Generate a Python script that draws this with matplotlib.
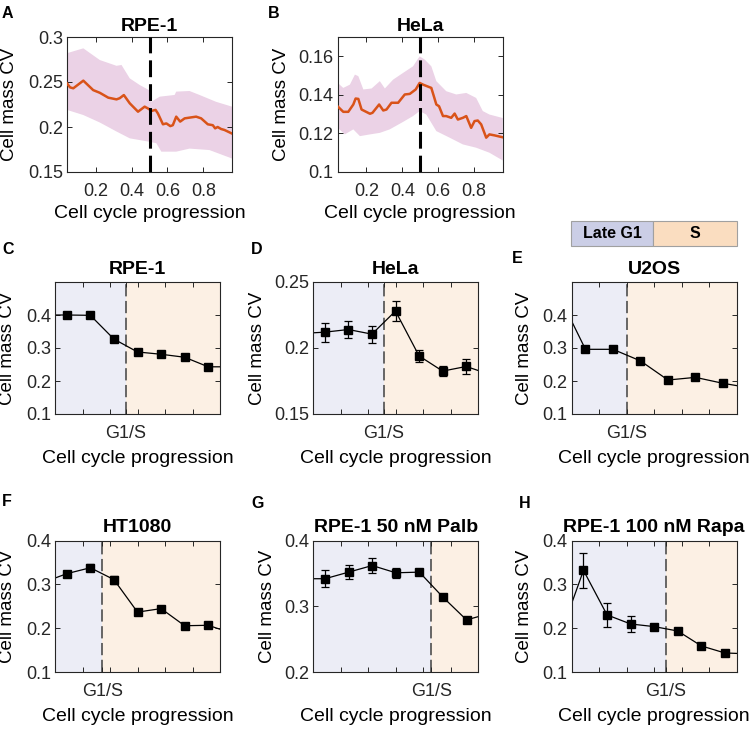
import numpy as np
import matplotlib
matplotlib.use('Agg')
import matplotlib.pyplot as plt
from matplotlib.patches import Rectangle

plt.rcParams['font.family'] = ['Liberation Sans', 'DejaVu Sans']

# ---------------- data ----------------
# Panel A (RPE-1, continuous)
a_x = [0.04, 0.057, 0.075, 0.131, 0.186, 0.223, 0.27, 0.316, 0.334, 0.357,
       0.39, 0.436, 0.473, 0.497, 0.51, 0.534, 0.547, 0.575, 0.594, 0.616,
       0.63, 0.649, 0.671, 0.696, 0.76, 0.788, 0.825, 0.853, 0.866, 0.88,
       0.899, 0.918, 0.957]
a_y = [0.2485, 0.244, 0.243, 0.2515, 0.241, 0.238, 0.2326, 0.2307, 0.232, 0.2355,
       0.2263, 0.217, 0.2226, 0.220, 0.2178, 0.219, 0.215, 0.203, 0.204, 0.201,
       0.202, 0.2115, 0.206, 0.2096, 0.2115, 0.2096, 0.203, 0.202, 0.1985, 0.200,
       0.1978, 0.1967, 0.193]
a_up_x = [0.04, 0.131, 0.223, 0.316, 0.344, 0.39, 0.445, 0.497, 0.51, 0.557,
          0.64, 0.649, 0.723, 0.779, 0.871, 0.96]
a_up_y = [0.282, 0.2874, 0.2744, 0.268, 0.2689, 0.254, 0.2467, 0.241, 0.228, 0.2337,
          0.2356, 0.2393, 0.240, 0.2356, 0.228, 0.2226]
a_lo_x = [0.04, 0.131, 0.223, 0.316, 0.39, 0.497, 0.538, 0.566, 0.649, 0.723, 0.834, 0.96]
a_lo_y = [0.219, 0.2133, 0.205, 0.195, 0.1874, 0.1837, 0.182, 0.1726, 0.1726, 0.176, 0.1744, 0.165]

# Panel B (HeLa, continuous)
b_x = [0.04, 0.071, 0.099, 0.127, 0.14, 0.155, 0.173, 0.22, 0.234, 0.271,
       0.294, 0.312, 0.34, 0.377, 0.414, 0.442, 0.475, 0.497, 0.516, 0.562,
       0.59, 0.605, 0.627, 0.645, 0.673, 0.692, 0.71, 0.738, 0.757, 0.784,
       0.803, 0.821, 0.84, 0.868, 0.886, 0.914, 0.96]
b_y = [0.134, 0.1312, 0.1312, 0.135, 0.1381, 0.1379, 0.1324, 0.1302, 0.1307, 0.135,
       0.1319, 0.1324, 0.1359, 0.1359, 0.1402, 0.1405, 0.1428, 0.1462, 0.1453, 0.1436,
       0.135, 0.1341, 0.129, 0.129, 0.1281, 0.1303, 0.1272, 0.1281, 0.129, 0.1229,
       0.1264, 0.1267, 0.1247, 0.1178, 0.1195, 0.119, 0.118]
b_up_x = [0.04, 0.071, 0.108, 0.136, 0.155, 0.183, 0.229, 0.275, 0.303, 0.349,
          0.405, 0.46, 0.497, 0.525, 0.562, 0.59, 0.645, 0.701, 0.757, 0.812,
          0.849, 0.886, 0.96]
b_up_y = [0.1462, 0.1436, 0.1453, 0.1505, 0.1497, 0.1428, 0.1433, 0.1471, 0.1433, 0.1479,
          0.1514, 0.1548, 0.160, 0.1583, 0.1548, 0.1471, 0.1419, 0.1402, 0.141, 0.1384,
          0.1316, 0.1298, 0.128]
b_lo_x = [0.04, 0.08, 0.127, 0.164, 0.22, 0.275, 0.33, 0.405, 0.46, 0.497,
          0.534, 0.59, 0.664, 0.738, 0.812, 0.886, 0.96]
b_lo_y = [0.1229, 0.1195, 0.1221, 0.1186, 0.1195, 0.1203, 0.1221, 0.126, 0.129, 0.1316,
          0.1298, 0.1212, 0.1178, 0.1143, 0.1126, 0.110, 0.106]

# Binned panels C-H: values include one bin beyond each axis edge
c_vals = [0.400, 0.400, 0.399, 0.327, 0.288, 0.281, 0.272, 0.243, 0.243]
c_err = [0.003, 0.003, 0.003, 0.003, 0.003, 0.003, 0.003]
d_vals = [0.211, 0.212, 0.214, 0.2105, 0.228, 0.194, 0.1825, 0.186, 0.180]
d_err = [0.0072, 0.0068, 0.0065, 0.0074, 0.0044, 0.0039, 0.0057]
e_vals = [0.466, 0.296, 0.296, 0.261, 0.203, 0.211, 0.193, 0.179]
e_err = [0.003, 0.003, 0.003, 0.003, 0.003, 0.003]
f_vals = [0.3045, 0.3245, 0.338, 0.311, 0.237, 0.245, 0.206, 0.207, 0.189]
f_err = [0.005, 0.008, 0.009, 0.003, 0.003, 0.003, 0.003]
g_vals = [0.342, 0.342, 0.352, 0.362, 0.351, 0.352, 0.314, 0.2795, 0.2895]
g_err = [0.0127, 0.0106, 0.012, 0.008, 0.004, 0.002, 0.002]
h_vals = [0.182, 0.332, 0.2306, 0.210, 0.204, 0.194, 0.160, 0.144, 0.142]
h_err = [0.04, 0.0266, 0.0186, 0.006, 0.003, 0.002, 0.002]

titles = ['RPE-1', 'HeLa', 'U2OS', 'HT1080', 'RPE-1 50 nM Palb', 'RPE-1 100 nM Rapa']
g1s_index = [3, 3, 2, 2, 5, 4]   # number of late-G1 bins before the G1/S boundary
legend_labels = ['Late G1', 'S']

# ---------------- style ----------------
W, H = 750, 729
fig = plt.figure(figsize=(7.5, 7.29), dpi=100)
AX_COL = '#262626'
RED = '#D95319'
BAND = '#EBD2E6'
G1_BG = '#ECEDF6'
S_BG = '#FCF0E4'
G1_LEG = '#CBCEE6'
S_LEG = '#FADDC0'
TICK_FS = 13
XLAB_FS = 14
YLAB_FS = 13.5
TITLE_FS = 14


def px_axes(left, top, right, bottom):
    return fig.add_axes([left / W, 1 - bottom / H, (right - left) / W, (bottom - top) / H])


def style(ax):
    for s in ax.spines.values():
        s.set_color(AX_COL)
        s.set_linewidth(0.8)
    ax.tick_params(direction='in', top=True, right=True, length=3.5, width=0.7,
                   color=AX_COL, labelcolor=AX_COL, labelsize=TICK_FS)
    ax.tick_params(axis='x', which='both', pad=8)
    ax.tick_params(axis='y', pad=3)
    ax.tick_params(which='minor', direction='in', top=True, length=3.5, width=0.7, color=AX_COL)


def panel_letter(x, y, s):
    fig.text(x / W, 1 - y / H, s, fontsize=11.5, fontweight='bold', va='top', ha='left')


# ---------------- Panel A ----------------
axA = px_axes(67, 37, 232, 172)
axA.fill(np.concatenate([a_up_x, a_lo_x[::-1]]), np.concatenate([a_up_y, a_lo_y[::-1]]),
         color=BAND, lw=0, zorder=1)
axA.plot(a_x, a_y, color=RED, lw=1.8, zorder=3)
axA.axvline(0.5, color='k', lw=2.2, ls=(0, (5.5, 2.3)), zorder=4)
axA.set_xlim(0.04, 0.96)
axA.set_ylim(0.15, 0.3)
axA.set_xticks([0.2, 0.4, 0.6, 0.8])
axA.set_xticklabels(['0.2', '0.4', '0.6', '0.8'])
axA.set_yticks([0.15, 0.2, 0.25, 0.3])
axA.set_yticklabels(['0.15', '0.2', '0.25', '0.3'])
style(axA)
axA.set_title('RPE-1', fontsize=TITLE_FS, fontweight='bold', pad=4.5)
axA.set_ylabel('Cell mass CV', fontsize=YLAB_FS)
axA.set_xlabel('Cell cycle progression', fontsize=XLAB_FS)
axA.yaxis.set_label_coords(-0.297, 0.5)
axA.xaxis.set_label_coords(0.5, -0.245)

# ---------------- Panel B ----------------
axB = px_axes(337.7, 37, 502.7, 172)
axB.fill(np.concatenate([b_up_x, b_lo_x[::-1]]), np.concatenate([b_up_y, b_lo_y[::-1]]),
         color=BAND, lw=0, zorder=1)
axB.plot(b_x, b_y, color=RED, lw=1.8, zorder=3)
axB.axvline(0.5, color='k', lw=2.2, ls=(0, (5.5, 2.3)), zorder=4)
axB.set_xlim(0.04, 0.96)
axB.set_ylim(0.1, 0.17)
axB.set_xticks([0.2, 0.4, 0.6, 0.8])
axB.set_xticklabels(['0.2', '0.4', '0.6', '0.8'])
axB.set_yticks([0.1, 0.12, 0.14, 0.16])
axB.set_yticklabels(['0.1', '0.12', '0.14', '0.16'])
style(axB)
axB.set_title('HeLa', fontsize=TITLE_FS, fontweight='bold', pad=4.5)
axB.set_ylabel('Cell mass CV', fontsize=YLAB_FS)
axB.set_xlabel('Cell cycle progression', fontsize=XLAB_FS)
axB.yaxis.set_label_coords(-0.289, 0.5)
axB.xaxis.set_label_coords(0.5, -0.245)

panel_letter(2, 6, 'A')
panel_letter(268, 6, 'B')


# ---------------- Panels C-H ----------------
def binned(ax, vals, err, title, n_g1, ylim, yticks, ylabels, ylab_x):
    vals = np.asarray(vals)
    x = np.arange(len(vals))
    n_in = len(vals) - 2
    lo, hi = 0.5, n_in + 0.5
    bnd = n_g1 + 0.5
    ax.axvspan(lo, bnd, color=G1_BG, lw=0, zorder=0)
    ax.axvspan(bnd, hi, color=S_BG, lw=0, zorder=0)
    ax.axvline(bnd, color='#404040', lw=1.1, ls=(0, (8, 3)), zorder=1)
    ax.plot(x, vals, color='k', lw=0.9, zorder=2)
    ax.errorbar(x[1:-1], vals[1:-1], yerr=err, fmt='s', color='k', ms=5.5,
                ecolor='k', elinewidth=0.9, capsize=3, capthick=0.9, zorder=3)
    ax.set_xlim(lo, hi)
    ax.set_ylim(*ylim)
    ax.set_yticks(yticks)
    ax.set_yticklabels(ylabels)
    ax.set_xticks([bnd])
    ax.set_xticklabels(['G1/S'])
    ax.set_xticks([lo + k * (hi - lo) / 6 for k in range(1, 6)], minor=True)
    style(ax)
    ax.set_title(title, fontsize=TITLE_FS, fontweight='bold', pad=6)
    ax.set_ylabel('Cell mass CV', fontsize=YLAB_FS)
    ax.set_xlabel('Cell cycle progression', fontsize=XLAB_FS)
    ax.yaxis.set_label_coords(ylab_x, 0.5)
    ax.xaxis.set_label_coords(0.5, -0.27)


axC = px_axes(55, 282, 220, 414)
binned(axC, c_vals, c_err, titles[0], g1s_index[0], (0.1, 0.5),
       [0.1, 0.2, 0.3, 0.4], ['0.1', '0.2', '0.3', '0.4'], -0.236)
axD = px_axes(313, 282, 478, 414)
binned(axD, d_vals, d_err, titles[1], g1s_index[1], (0.15, 0.25),
       [0.15, 0.2, 0.25], ['0.15', '0.2', '0.25'], -0.285)
axE = px_axes(571.7, 282, 736.7, 414)
binned(axE, e_vals, e_err, titles[2], g1s_index[2], (0.1, 0.5),
       [0.1, 0.2, 0.3, 0.4], ['0.1', '0.2', '0.3', '0.4'], -0.235)
axF = px_axes(55, 540.5, 220, 672.3)
binned(axF, f_vals, f_err, titles[3], g1s_index[3], (0.1, 0.4),
       [0.1, 0.2, 0.3, 0.4], ['0.1', '0.2', '0.3', '0.4'], -0.236)
axG = px_axes(313.3, 540.5, 478.3, 672.3)
binned(axG, g_vals, g_err, titles[4], g1s_index[4], (0.2, 0.4),
       [0.2, 0.3, 0.4], ['0.2', '0.3', '0.4'], -0.226)
axH = px_axes(571.7, 540.5, 736.7, 672.3)
binned(axH, h_vals, h_err, titles[5], g1s_index[5], (0.1, 0.4),
       [0.1, 0.2, 0.3, 0.4], ['0.1', '0.2', '0.3', '0.4'], -0.235)

panel_letter(2, 242, 'C')
panel_letter(251, 242, 'D')
panel_letter(512, 251, 'E')
panel_letter(2, 494, 'F')
panel_letter(251, 496, 'G')
panel_letter(519, 496, 'H')

# ---------------- legend boxes ----------------
for (x0, x1), col, lab in zip([(571, 653), (653, 737)], [G1_LEG, S_LEG], legend_labels):
    r = Rectangle((x0 / W, 1 - 246 / H), (x1 - x0) / W, 25 / H, transform=fig.transFigure,
                  facecolor=col, edgecolor='#A0A0A0', lw=0.8)
    fig.patches.append(r)
    fig.text((x0 + x1) / 2 / W, 1 - 233.5 / H, lab, fontsize=11.5, fontweight='bold',
             ha='center', va='center')

fig.savefig('out.png', dpi=100)
